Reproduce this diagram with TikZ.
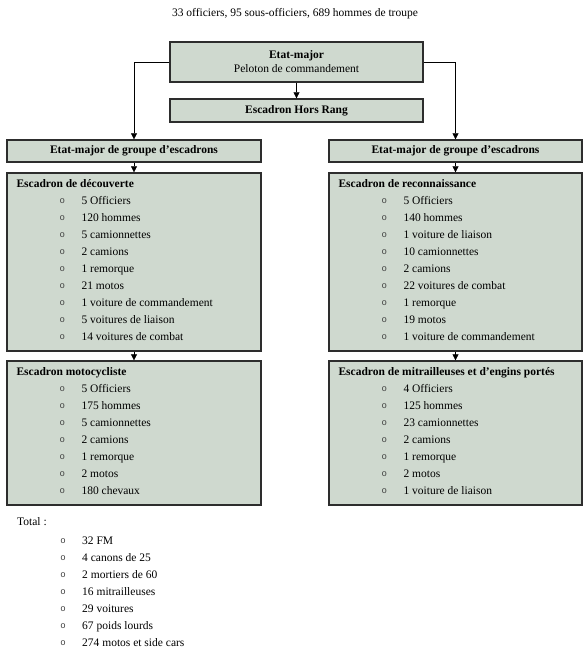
\documentclass[tikz,border=0pt]{standalone}
\usepackage{fontspec}
\setmainfont{Liberation Serif}
\newfontfamily\bulletfont{Liberation Mono}
\usetikzlibrary{arrows.meta, positioning, calc}

\definecolor{unitfill}{RGB}{207,217,207}
\definecolor{unitline}{RGB}{45,45,45}

\tikzset{
  unitbox/.style={draw=unitline, fill=unitfill, line width=1.3pt,
                  inner sep=0pt, minimum width=253pt},
  linkarrow/.style={-{Triangle[length=6pt,width=6pt]}, line width=0.6pt},
  headtext/.style={font=\fontsize{11.5}{14}\selectfont\bfseries,
                   anchor=base west, inner sep=0pt},
  itemtext/.style={font=\fontsize{11.5}{14}\selectfont,
                   anchor=base west, inner sep=0pt},
  bulletmark/.style={font=\bulletfont\fontsize{9}{10}\selectfont,
                     anchor=base, inner sep=0pt, text=black!75}
}

% #1 box, #2 heading, #3 items
\newcommand{\squadlist}[3]{
  \node[headtext] (#1-head) at ($(#1.north west)+(10,15)$) {#2};
  \foreach \txt [count=\i] in {#3} {
    \node[bulletmark] (#1-o\i) at ($(#1.north west)+(56,14+17*\i)$) {o};
    \node[itemtext] (#1-t\i) at ($(#1.north west)+(75,15+17*\i)$) {\txt};
  }
}

\begin{document}
\begin{tikzpicture}[x=1pt, y=-1pt]
  \useasboundingbox (0,0) rectangle (587,652);

  \node[font=\fontsize{11.5}{13}\selectfont] (title) at (295,14)
       {33 officiers, 95 sous-officiers, 689 hommes de troupe};

  \node[unitbox, minimum height=40pt, align=center,
        font=\fontsize{11.5}{14}\selectfont] (em) at (296.5,62)
       {\textbf{Etat-major}\\Peloton de commandement};
  \node[unitbox, minimum height=23pt, font=\fontsize{11.5}{14}\selectfont\bfseries]
       (hr) at (296.5,110.5) {Escadron Hors Rang};

  \node[unitbox, minimum width=254pt, minimum height=22pt,
        font=\fontsize{11.5}{14}\selectfont\bfseries] (gl) at (134,151)
       {Etat-major de groupe d’escadrons};
  \node[unitbox, minimum height=22pt,
        font=\fontsize{11.5}{14}\selectfont\bfseries] (gr) at (455.5,151)
       {Etat-major de groupe d’escadrons};

  \node[unitbox, minimum width=254pt, minimum height=178pt] (decouv) at (134,262) {};
  \node[unitbox, minimum width=254pt, minimum height=144pt] (moto) at (134,433) {};
  \node[unitbox, minimum height=178pt] (recon) at (455.5,262) {};
  \node[unitbox, minimum height=144pt] (mitr) at (455.5,433) {};

  \draw[linkarrow] (em.south) -- (hr.north);
  \draw[linkarrow] (em.west) -| (gl.north);
  \draw[linkarrow] (em.east) -| (gr.north);
  \draw[linkarrow] (gl.south) -- (decouv.north);
  \draw[linkarrow] (gr.south) -- (recon.north);
  \draw[linkarrow] (decouv.south) -- (moto.north);
  \draw[linkarrow] (recon.south) -- (mitr.north);

  \squadlist{decouv}{Escadron de découverte}{5 Officiers, 120 hommes,
    5 camionnettes, 2 camions, 1 remorque, 21 motos,
    1 voiture de commandement, 5 voitures de liaison, 14 voitures de combat}
  \squadlist{moto}{Escadron motocycliste}{5 Officiers, 175 hommes,
    5 camionnettes, 2 camions, 1 remorque, 2 motos, 180 chevaux}
  \squadlist{recon}{Escadron de reconnaissance}{5 Officiers, 140 hommes,
    1 voiture de liaison, 10 camionnettes, 2 camions, 22 voitures de combat,
    1 remorque, 19 motos, 1 voiture de commandement}
  \squadlist{mitr}{Escadron de mitrailleuses et d’engins portés}{4 Officiers,
    125 hommes, 23 camionnettes, 2 camions, 1 remorque, 2 motos,
    1 voiture de liaison}

  \coordinate (total) at (7,510);
  \node[itemtext] (total-head) at ($(total)+(10,15)$) {Total :};
  \foreach \txt [count=\i] in {32 FM, 4 canons de 25, 2 mortiers de 60,
      16 mitrailleuses, 29 voitures, 67 poids lourds, 274 motos et side cars} {
    \node[bulletmark] (total-o\i) at ($(total)+(56,16+17*\i)$) {o};
    \node[itemtext] (total-t\i) at ($(total)+(75,17+17*\i)$) {\txt};
  }
\end{tikzpicture}
\end{document}
